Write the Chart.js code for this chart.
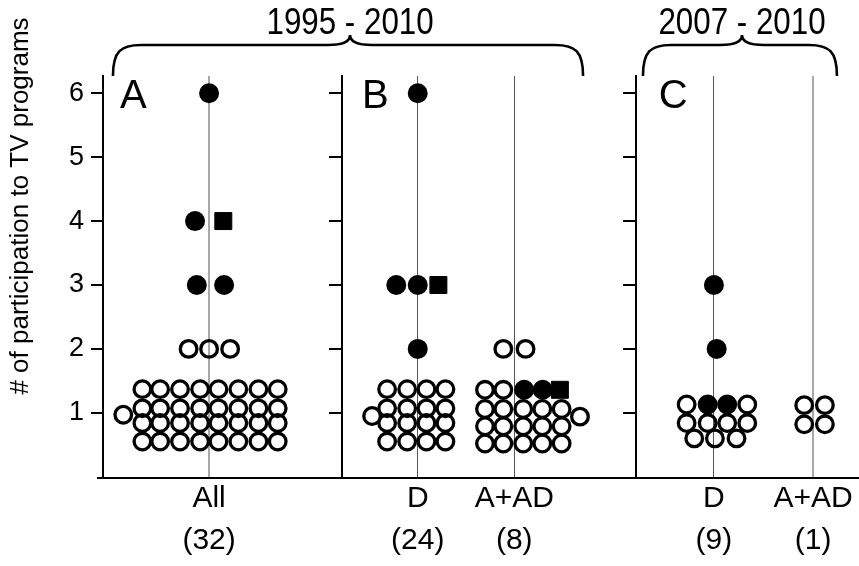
<!DOCTYPE html>
<html>
<head>
<meta charset="utf-8">
<script src="https://cdn.jsdelivr.net/npm/chart.js@4.4.0/dist/chart.umd.min.js"></script>
<style>
  html, body { margin: 0; padding: 0; background: #fff; }
</style>
</head>
<body>
<canvas id="chart" width="859" height="566"></canvas>
<script>
// categories under the x axis
const categories = ["All", "D", "A+AD", "D", "A+AD"];
const counts = ["(32)", "(24)", "(8)", "(9)", "(1)"];
const panelLetters = ["A", "B", "C"];
const periods = ["1995 - 2010", "2007 - 2010"];
const yTitle = "# of participation to TV programs";
const yTicks = [1, 2, 3, 4, 5, 6];

// each dot: [offset from the group centre (in dot widths), value]
const row = (v, offsets) => offsets.map((o) => [o, v]);
const rowAll = [-3.42, -2.51, -1.49, -0.46, 0.48, 1.5, 2.53, 3.52];
const rowBD = [-1.57, -0.54, 0.45, 1.42];
const rowBA = [-1.5, -0.56, 0.46, 1.44, 2.43];
const rowCD = [-1.4, -0.32, 0.68, 1.71];

const openAll = [
  ...row(1.37, rowAll), ...row(1.07, rowAll), ...row(0.84, rowAll), ...row(0.55, rowAll),
  [-4.4, 0.97],
  ...row(2, [-1.05, 0, 1.08]),
];
const filledAll = [[0, 6], [-0.72, 4], [-0.63, 3], [0.77, 3]];
const squareAll = [[0.73, 4]];

const openBD = [
  ...row(1.37, rowBD), ...row(1.07, rowBD), ...row(0.84, rowBD), ...row(0.55, rowBD),
  [-2.34, 0.95],
];
const filledBD = [[0, 6], [-1.1, 3], [0, 3], [0, 2]];
const squareBD = [[1.06, 3]];

const openBA = [
  ...row(1.36, [-1.5, -0.56]),
  ...row(1.06, rowBA), ...row(0.79, rowBA), ...row(0.52, rowBA),
  [3.37, 0.94],
  ...row(2, [-0.56, 0.58]),
];
const filledBA = [[0.51, 1.36], [1.46, 1.36]];
const squareBA = [[2.34, 1.36]];

const openCD = [
  ...row(1.13, [-1.4, 1.71]), ...row(0.84, rowCD), ...row(0.6, [-1.01, 0.05, 1.16]),
];
const filledCD = [[-0.32, 1.13], [0.68, 1.13], [0, 3], [0.14, 2]];
const squareCD = [];

const openCA = [...row(1.12, [-0.46, 0.6]), ...row(0.82, [-0.46, 0.6])];
const filledCA = [];
const squareCA = [];

// layout (x in dot widths from the y axis)
const groupX = [5.44, 16.14, 21.09, 31.33, 36.42];
const dividers = [12.26, 27.32];
const letterX = [0.87, 13.28, 28.5];
const braces = [[0.51, 12.67, 24.62], [27.69, 32.77, 37.64]];
const gridColors = ["#a8a8a8", "#555555", "#555555", "#555555", "#a8a8a8"];
const gridWidths = [2, 1, 1, 1, 2];
const FONT = "'Liberation Sans', Arial, sans-serif";

const toPoints = (groups) =>
  groups.flatMap((dots, g) => dots.map(([dx, v]) => ({ x: groupX[g] + dx, y: v })));

const decor = {
  id: "decor",
  afterDraw(chart) {
    const { ctx, chartArea, scales } = chart;
    const x = scales.x;
    ctx.save();
    ctx.fillStyle = "#000";
    ctx.strokeStyle = "#000";

    ctx.save();
    ctx.translate(21, 206);
    ctx.rotate(-Math.PI / 2);
    ctx.font = "26px " + FONT;
    ctx.textAlign = "center";
    ctx.textBaseline = "middle";
    ctx.fillText(yTitle, 0, 0);
    ctx.restore();

    ctx.font = "40px " + FONT;
    ctx.textAlign = "left";
    ctx.textBaseline = "alphabetic";
    panelLetters.forEach((t, i) => {
      ctx.fillText(t, x.getPixelForValue(letterX[i]), chartArea.top + 32);
    });

    // bottom axis line runs a little past the y axis
    ctx.lineWidth = 2;
    ctx.beginPath();
    ctx.moveTo(chartArea.left - 6, chartArea.bottom);
    ctx.lineTo(chartArea.left, chartArea.bottom);
    ctx.stroke();

    ctx.lineWidth = 2.6;
    braces.forEach((b, i) => {
      const x1 = x.getPixelForValue(b[0]);
      const xc = x.getPixelForValue(b[1]);
      const x2 = x.getPixelForValue(b[2]);
      const yb = chartArea.top, yf = yb - 31, yt = yb - 41;
      ctx.beginPath();
      ctx.moveTo(x1, yb);
      ctx.bezierCurveTo(x1, yf + 6, x1 + 8, yf, x1 + 28, yf);
      ctx.lineTo(xc - 22, yf);
      ctx.bezierCurveTo(xc - 8, yf, xc, yf - 3, xc, yt);
      ctx.bezierCurveTo(xc, yf - 3, xc + 8, yf, xc + 22, yf);
      ctx.lineTo(x2 - 28, yf);
      ctx.bezierCurveTo(x2 - 8, yf, x2, yf + 6, x2, yb);
      ctx.stroke();

      ctx.save();
      ctx.translate(xc, yt - 1);
      ctx.scale(0.87, 1);
      ctx.font = "36px " + FONT;
      ctx.textAlign = "center";
      ctx.fillText(periods[i], 0, 0);
      ctx.restore();
    });
    ctx.restore();
  },
};

const yCommon = {
  type: "linear",
  min: -0.02,
  max: 6.27,
  afterBuildTicks: (s) => {
    s.ticks = yTicks.map((v) => ({ value: v }));
  },
  grid: { drawOnChartArea: false, color: "#000", lineWidth: 2, tickLength: 12 },
  border: { color: "#000", width: 2 },
};

new Chart(document.getElementById("chart"), {
  type: "scatter",
  data: {
    datasets: [
      {
        data: toPoints([openAll, openBD, openBA, openCD, openCA]),
        pointStyle: "circle",
        pointRadius: 8.3,
        pointBorderWidth: 3.3,
        pointBackgroundColor: "rgba(0,0,0,0)",
        pointBorderColor: "#000",
      },
      {
        data: toPoints([filledAll, filledBD, filledBA, filledCD, filledCA]),
        pointStyle: "circle",
        pointRadius: 9,
        pointBorderWidth: 2,
        pointBackgroundColor: "#000",
        pointBorderColor: "#000",
      },
      {
        data: toPoints([squareAll, squareBD, squareBA, squareCD, squareCA]),
        pointStyle: "rect",
        pointRadius: 12,
        pointBorderWidth: 1,
        pointBackgroundColor: "#000",
        pointBorderColor: "#000",
      },
    ],
  },
  options: {
    responsive: false,
    animation: false,
    events: [],
    layout: { autoPadding: false, padding: { top: 76, left: 0, right: 0, bottom: 0 } },
    plugins: { legend: { display: false }, tooltip: { enabled: false } },
    scales: {
      x: {
        type: "linear",
        min: 0,
        max: 38.77,
        afterFit: (s) => {
          s.height = 88;
          s.paddingLeft = 0;
          s.paddingRight = 0;
        },
        afterBuildTicks: (s) => {
          s.ticks = groupX.map((v) => ({ value: v }));
        },
        ticks: {
          autoSkip: false,
          maxRotation: 0,
          color: "#000",
          padding: 0,
          font: { size: 30, family: FONT, lineHeight: 1.4 },
          callback: (v, i) => [categories[i], counts[i]],
        },
        grid: {
          drawTicks: false,
          color: (c) => gridColors[c.index],
          lineWidth: (c) => gridWidths[c.index],
        },
        border: { color: "#000", width: 2 },
      },
      y: {
        ...yCommon,
        position: "left",
        afterFit: (s) => {
          s.width = 103;
        },
        ticks: { color: "#000", padding: 7, font: { size: 27, family: FONT } },
      },
      yB: { ...yCommon, position: { x: dividers[0] }, ticks: { display: false } },
      yC: { ...yCommon, position: { x: dividers[1] }, ticks: { display: false } },
    },
  },
  plugins: [decor],
});
</script>
</body>
</html>
